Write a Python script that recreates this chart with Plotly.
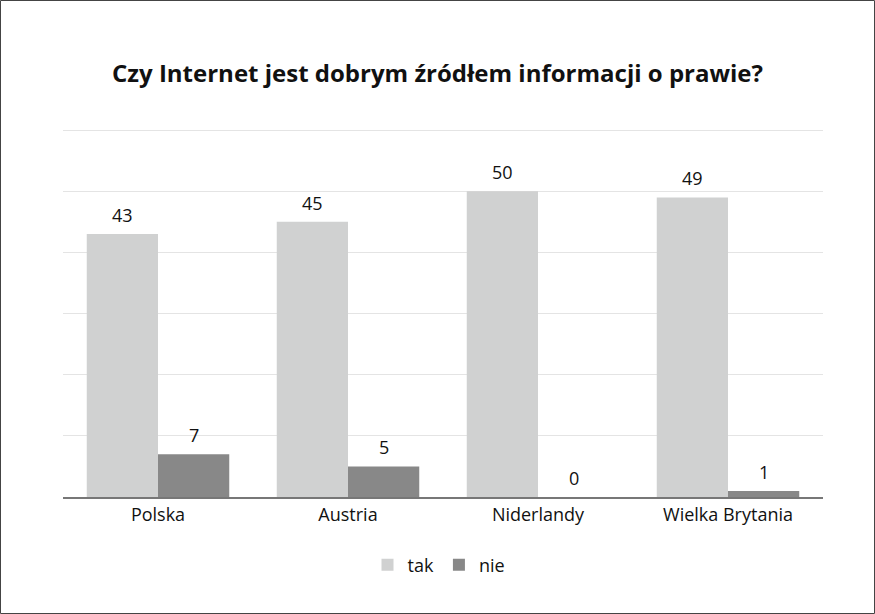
import plotly.graph_objects as go

# dane z wykresu
kraje = ["Polska", "Austria", "Niderlandy", "Wielka Brytania"]
tak = [43, 45, 50, 49]
nie = [7, 5, 0, 1]
tytul = "Czy Internet jest dobrym źródłem informacji o prawie?"

W, H = 875, 614
L, R, T, B = 63, 52, 128, 117
pw, ph = W - L - R, H - T - B
BARGAP = 0.25


def px_x(p):
    return (p - L) / pw


def px_y(p):
    return (H - B - p) / ph


fig = go.Figure()
fig.add_trace(go.Bar(x=kraje, y=tak, name="tak", marker_color="#d0d1d1"))
fig.add_trace(go.Bar(x=kraje, y=nie, name="nie", marker_color="#888888"))
fig.update_traces(marker_line_width=0)

# etykiety wartości nad słupkami (przesunięte o pół szerokości słupka)
bar_w = pw / len(kraje) * (1 - BARGAP) / 2
for vals, dx in ((tak, -bar_w / 2), (nie, bar_w / 2)):
    for k, v in zip(kraje, vals):
        fig.add_annotation(x=k, y=v, text=str(v), showarrow=False,
                           xshift=dx, yanchor="bottom", yshift=5,
                           font=dict(size=18, color="#111"))

fig.update_layout(
    width=W, height=H,
    margin=dict(l=L, r=R, t=T, b=B),
    paper_bgcolor="white", plot_bgcolor="white",
    font=dict(family="Open Sans", size=18, color="#111"),
    barmode="group", bargap=BARGAP, bargroupgap=0,
    title=dict(text="<b>" + tytul + "</b>", x=0.5, xanchor="center",
               y=1 - 74 / H, yanchor="middle", font=dict(size=24, color="#111")),
    xaxis=dict(showline=True, linecolor="#777777", linewidth=2, ticks="",
               tickfont=dict(size=18)),
    yaxis=dict(range=[0, 60.35], tickvals=[10, 20, 30, 40, 50, 60],
               showticklabels=False, gridcolor="#e4e4e4", gridwidth=1,
               zeroline=False),
    legend=dict(orientation="h", x=px_x(439), xanchor="center", y=px_y(565),
                yanchor="middle", font=dict(size=18), itemwidth=30),
    showlegend=True,
)

# ramka wokół całego obrazka
fig.add_shape(type="rect", xref="paper", yref="paper",
              x0=px_x(0.5), x1=px_x(W - 0.5), y0=px_y(H - 0.5), y1=px_y(0.5),
              line=dict(color="#444444", width=1))

fig.write_html("out.html", config={"displayModeBar": False},
               post_script="document.body.style.margin='0';")
